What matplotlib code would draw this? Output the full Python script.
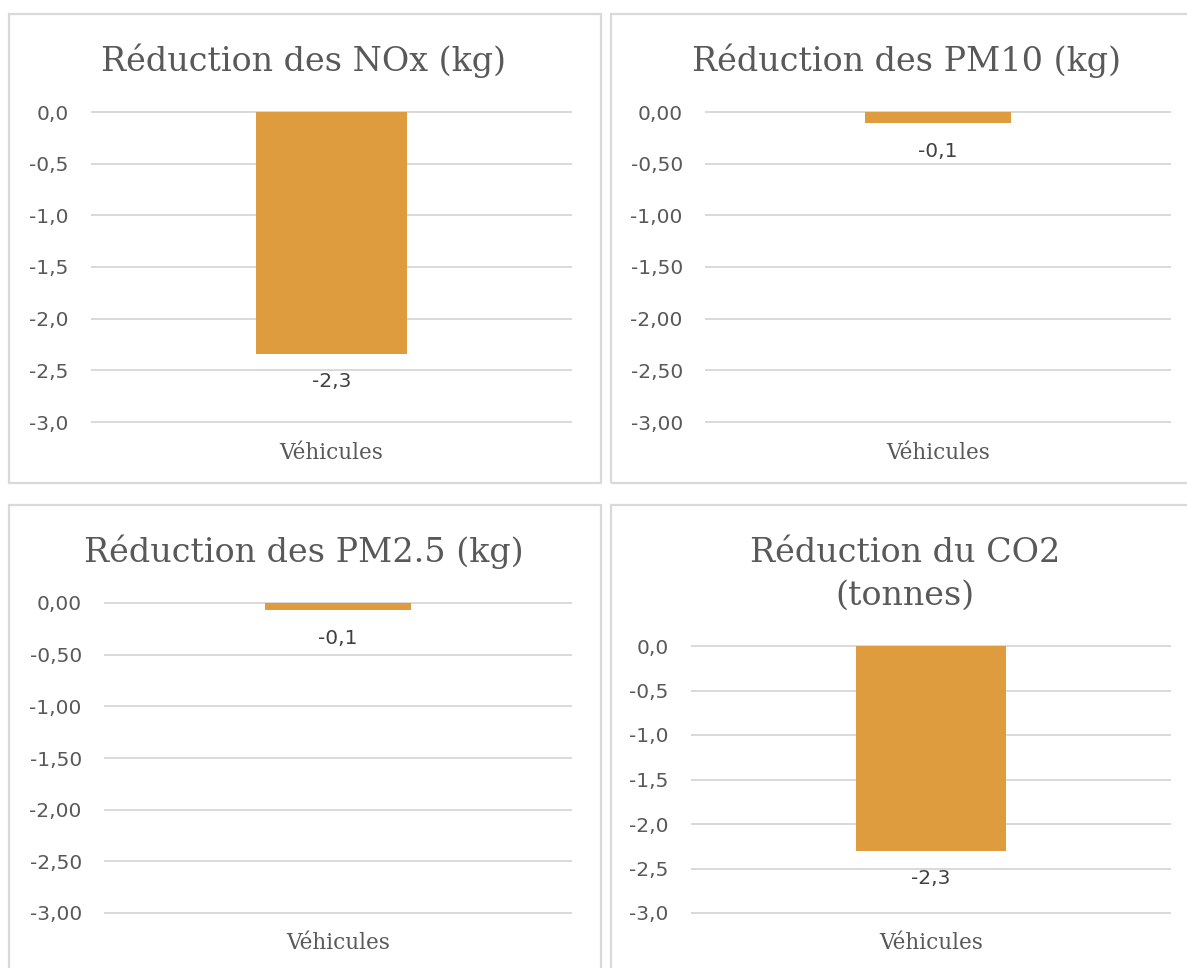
import matplotlib.pyplot as plt
from matplotlib.patches import Rectangle
from matplotlib.ticker import FuncFormatter

W, H = 1187, 968

# data
titles = [["Réduction des NOx (kg)"],
          ["Réduction des PM10 (kg)"],
          ["Réduction des PM2.5 (kg)"],
          ["Réduction du CO2", "(tonnes)"]]
category = ["Véhicules"]
nox = [-2.34]
pm10 = [-0.11]
pm25 = [-0.07]
co2 = [-2.30]
values = [nox, pm10, pm25, co2]
tick_decimals = [1, 2, 2, 1]
yticks = [0, -0.5, -1.0, -1.5, -2.0, -2.5, -3.0]

# layout in pixels of the reference
frames = [(9, 14, 601, 483), (611, 14, 1200, 483),
          (9, 505, 601, 980), (611, 505, 1200, 980)]
grids = [(91, 572, 112, 422), (705, 1171, 112, 422),
         (104, 572, 603, 913), (691, 1171, 646, 913)]
title_x = [304, 906, 304, 905]
title_base = [[71], [71], [562], [562, 605]]
cat_y = [453, 453, 943, 943]

bar_color = '#DE9C3E'
text_color = '#595959'
grid_color = '#D9D9D9'
serif = 'DejaVu Serif'
sans = 'DejaVu Sans'

fig = plt.figure(figsize=(W / 100, H / 100), dpi=100)
fig.patch.set_facecolor('white')

m = 6  # pixel margin so edge gridlines are not clipped
for i in range(4):
    x0, y0, x1, y1 = frames[i]
    fig.add_artist(Rectangle((x0 / W, 1 - y1 / H), (x1 - x0) / W, (y1 - y0) / H,
                             transform=fig.transFigure, fill=False,
                             ec=grid_color, lw=1.6))

    left, right, ytop, ybot = grids[i]
    ax = fig.add_axes([left / W, 1 - (ybot + m) / H, (right - left) / W,
                       (ybot - ytop + 2 * m) / H])
    ppu = (ybot - ytop) / 3.0
    ax.set_xlim(-0.5, 0.5)
    ax.set_ylim(-3 - m / ppu, m / ppu)

    v = values[i][0]
    ax.bar([0], values[i], width=0.314, color=bar_color, zorder=3)
    ax.annotate(f"{v:.1f}".replace('.', ','), xy=(0, v), xytext=(0, -28),
                textcoords='offset pixels', ha='center', va='center',
                fontsize=14.5, family=sans, color='#404040')

    d = tick_decimals[i]
    ax.set_yticks(yticks)
    ax.yaxis.set_major_formatter(FuncFormatter(
        lambda y, p, d=d: f"{y:.{d}f}".replace('.', ',').replace('-0,' + '0' * d, '0,' + '0' * d)))
    ax.tick_params(axis='y', length=0, pad=16, labelsize=14.5, labelcolor=text_color)
    for lab in ax.get_yticklabels():
        lab.set_family(sans)

    ax.set_xticks([0])
    ax.set_xticklabels(category, family=serif, fontsize=15.5, color=text_color)
    ax.tick_params(axis='x', length=0, pad=(cat_y[i] - (ybot + m)) * 0.72)
    for lab in ax.get_xticklabels():
        lab.set_va('center')

    ax.grid(axis='y', color=grid_color, lw=1.4)
    ax.set_axisbelow(True)
    for s in ax.spines.values():
        s.set_visible(False)

    for line, base in zip(titles[i], title_base[i]):
        fig.text(title_x[i] / W, 1 - base / H, line, ha='center', va='baseline',
                 family=serif, fontsize=24, color=text_color)

plt.savefig('out.png', dpi=100)
